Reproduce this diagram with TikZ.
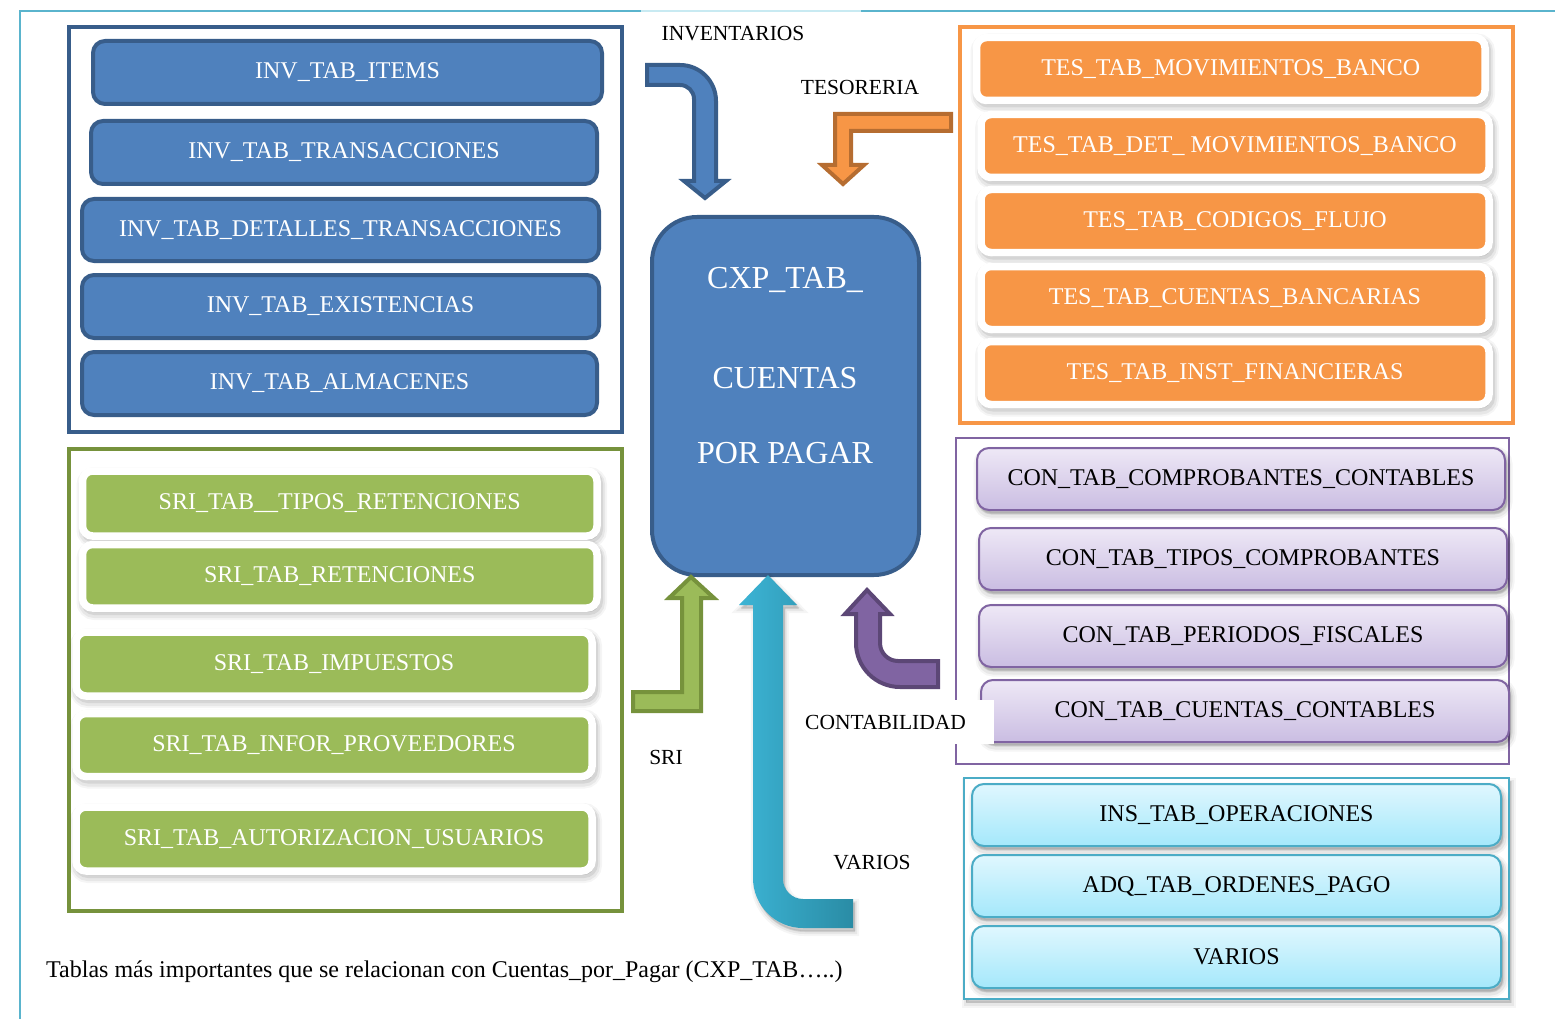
\documentclass[tikz,border=0pt]{standalone}
\usepackage{fontspec}
\setmainfont{Liberation Serif}
\usetikzlibrary{shadows}

\definecolor{invfill}{HTML}{4F81BD}
\definecolor{invline}{HTML}{385D8A}
\definecolor{srifill}{HTML}{9BBB59}
\definecolor{sriline}{HTML}{76923C}
\definecolor{tesfill}{HTML}{F79646}
\definecolor{tesline}{HTML}{B66D31}
\definecolor{conline}{HTML}{8064A2}
\definecolor{conarrow}{HTML}{5C4776}
\definecolor{contop}{HTML}{EEE8F6}
\definecolor{conbot}{HTML}{CABDE2}
\definecolor{varline}{HTML}{4BACC6}
\definecolor{vartop}{HTML}{E0F7FE}
\definecolor{varbot}{HTML}{A4E8FB}
\definecolor{varleft}{HTML}{3CB4D5}
\definecolor{varright}{HTML}{2A8CA5}
\definecolor{pageline}{HTML}{5AB4CD}
\definecolor{pagelight}{HTML}{C8EAF2}

\tikzset{
  % layered strokes behind a shape give a soft shadow
  softshadow/.style={
    preaction={draw=black, fill=black, opacity=0.04, line width=#1+8pt,
      transform canvas={xshift=2pt, yshift=-4pt}},
    preaction={draw=black, fill=black, opacity=0.06, line width=#1+4pt,
      transform canvas={xshift=2pt, yshift=-4pt}},
    preaction={draw=black, fill=black, opacity=0.08, line width=#1,
      transform canvas={xshift=2pt, yshift=-3pt}}},
  boxtext/.style={font=\fontsize{24}{28}\selectfont, inner sep=0pt, align=center},
  invbox/.style={boxtext, rectangle, rounded corners=12pt, fill=invfill,
    draw=invline, line width=4pt, text=white},
  ringbox/.style={boxtext, rectangle, rounded corners=10pt, draw=white,
    line width=7.5pt, text=white, softshadow=8pt},
  sribox/.style={ringbox, fill=srifill},
  tesbox/.style={ringbox, fill=tesfill},
  gradbox/.style={boxtext, rectangle, rounded corners=12pt, line width=2pt,
    text=black, softshadow=3pt},
  conbox/.style={gradbox, draw=conline, top color=contop, bottom color=conbot},
  varbox/.style={gradbox, draw=varline, top color=vartop, bottom color=varbot},
  lbl/.style={font=\fontsize{21.5}{25}\selectfont, inner sep=0pt},
  blockarrow/.style={line width=4pt, line join=miter},
}

\begin{document}
\begin{tikzpicture}[x=1pt, y=-1pt]
\useasboundingbox (0,0) rectangle (1555,1019);

% page border
\draw[pageline, line width=2pt] (20,1019) -- (20,11) -- (641,11);
\draw[pagelight, line width=2pt] (641,11) -- (861,11);
\draw[pageline, line width=2pt] (861,11) -- (1555,11);

% group frames
\draw[invline, line width=4pt] (69,27) rectangle (622,432);
\draw[sriline, line width=4pt] (69,449) rectangle (622,911);
\draw[tesfill, line width=4pt] (960,27) rectangle (1513,423);
\draw[conline, line width=2pt] (956,438) rectangle (1509,764);
\draw[varline, line width=2pt, fill=white, softshadow=1pt] (964,778) rectangle (1509,999);

% inventarios
\node[invbox, minimum width=509pt, minimum height=63pt] (inv1) at (347.5,72.5) {INV\_TAB\_ITEMS};
\node[invbox, minimum width=506pt, minimum height=63pt] (inv2) at (344,152.5) {INV\_TAB\_TRANSACCIONES};
\node[invbox, minimum width=517pt, minimum height=62pt] (inv3) at (340.5,230) {INV\_TAB\_DETALLES\_TRANSACCIONES};
\node[invbox, minimum width=517pt, minimum height=63pt] (inv4) at (340.5,306.5) {INV\_TAB\_EXISTENCIAS};
\node[invbox, minimum width=515pt, minimum height=63pt] (inv5) at (339.5,383.5) {INV\_TAB\_ALMACENES};

% sri
\node[sribox, minimum width=514.5pt, minimum height=65pt] (sri1) at (339.75,503.5) {SRI\_TAB\_\_TIPOS\_RETENCIONES};
\node[sribox, minimum width=514.5pt, minimum height=63.5pt] (sri2) at (339.75,576.25) {SRI\_TAB\_RETENCIONES};
\node[sribox, minimum width=516pt, minimum height=64pt] (sri3) at (334,664) {SRI\_TAB\_IMPUESTOS};
\node[sribox, minimum width=516pt, minimum height=63pt] (sri4) at (334,745) {SRI\_TAB\_INFOR\_PROVEEDORES};
\node[sribox, minimum width=516pt, minimum height=64pt] (sri5) at (334,839) {SRI\_TAB\_AUTORIZACION\_USUARIOS};

% tesoreria
\node[tesbox, minimum width=508.5pt, minimum height=63pt] (tes1) at (1230.75,69) {TES\_TAB\_MOVIMIENTOS\_BANCO};
\node[tesbox, minimum width=508pt, minimum height=63pt] (tes2) at (1235,146) {TES\_TAB\_DET\_ MOVIMIENTOS\_BANCO};
\node[tesbox, minimum width=508pt, minimum height=63pt] (tes3) at (1235,221) {TES\_TAB\_CODIGOS\_FLUJO};
\node[tesbox, minimum width=508pt, minimum height=63pt] (tes4) at (1235,298) {TES\_TAB\_CUENTAS\_BANCARIAS};
\node[tesbox, minimum width=508pt, minimum height=63pt] (tes5) at (1235,373) {TES\_TAB\_INST\_FINANCIERAS};

% contabilidad
\node[conbox, minimum width=528pt, minimum height=62pt] (con1) at (1241,479) {CON\_TAB\_COMPROBANTES\_CONTABLES};
\node[conbox, minimum width=528pt, minimum height=62pt] (con2) at (1243,559) {CON\_TAB\_TIPOS\_COMPROBANTES};
\node[conbox, minimum width=528pt, minimum height=62pt] (con3) at (1243,636) {CON\_TAB\_PERIODOS\_FISCALES};
\node[conbox, minimum width=528pt, minimum height=62pt] (con4) at (1245,711) {CON\_TAB\_CUENTAS\_CONTABLES};

% varios
\node[varbox, minimum width=529pt, minimum height=62pt] (var1) at (1236.5,815) {INS\_TAB\_OPERACIONES};
\node[varbox, minimum width=529pt, minimum height=62pt] (var2) at (1236.5,886) {ADQ\_TAB\_ORDENES\_PAGO};
\node[varbox, minimum width=529pt, minimum height=62pt] (var3) at (1236.5,957) {VARIOS};

% central table
\node[invbox, rounded corners=45pt, minimum width=267pt, minimum height=358pt] (cxp) at (785.5,396) {};
\node[font=\fontsize{32}{38}\selectfont, text=white, align=center, inner sep=0pt] (cxptext) at (785,366)
  {CXP\_TAB\_\\[62pt]CUENTAS\\[37pt]POR PAGAR};

% block arrows into the central table
\draw[blockarrow, draw=invline, fill=invfill]
  (647,65) -- (680,65) .. controls (699.9,65) and (716,81.1) .. (716,101)
  -- (716,181) -- (726,181) -- (705,198) -- (684,181) -- (694,181) -- (694,99)
  .. controls (694,91.3) and (687.7,85) .. (680,85) -- (647,85) -- cycle;

\draw[blockarrow, draw=tesline, fill=tesfill]
  (951,114) -- (835,114) -- (835,165) -- (822,165) -- (843,184) -- (864,165)
  -- (851,165) -- (851,131) -- (951,131) -- cycle;

\draw[blockarrow, draw=sriline, fill=srifill]
  (633,692) -- (682,692) -- (682,598) -- (669,598) -- (691,577) -- (714,598)
  -- (701,598) -- (701,711) -- (633,711) -- cycle;

\draw[blockarrow, draw=conarrow, fill=conline]
  (867,590) -- (890,614) -- (880,614) -- (880,643)
  .. controls (880,652.9) and (888.1,661) .. (898,661) -- (938,661) -- (938,687)
  -- (900,687) .. controls (875.7,687) and (856,667.3) .. (856,643)
  -- (856,614) -- (845,614) -- cycle;

\path[left color=varleft, right color=varright, softshadow=0.1pt]
  (768,575) -- (797,605) -- (783,605) -- (783,879)
  .. controls (783,890) and (792,899) .. (803,899) -- (853,899) -- (853,928)
  -- (803,928) .. controls (775.4,928) and (753,905.6) .. (753,878)
  -- (753,605) -- (739,605) -- cycle;

% module labels
\node[lbl] (linv) at (733,34) {INVENTARIOS};
\node[lbl] (ltes) at (860,87) {TESORERIA};
\node[lbl] (lsri) at (666,757) {SRI};
\node[lbl, anchor=west, fill=white, text width=186pt, align=left, inner sep=3pt,
      minimum height=44pt] (lcon) at (802,722) {CONTABILIDAD};
\node[lbl] (lvar) at (872,863) {VARIOS};

% caption
\node[font=\fontsize{24}{28}\selectfont, inner sep=0pt, anchor=base west] (caption) at (46,977)
  {Tablas más importantes que se relacionan con Cuentas\_por\_Pagar (CXP\_TAB…..)};

\end{tikzpicture}
\end{document}
